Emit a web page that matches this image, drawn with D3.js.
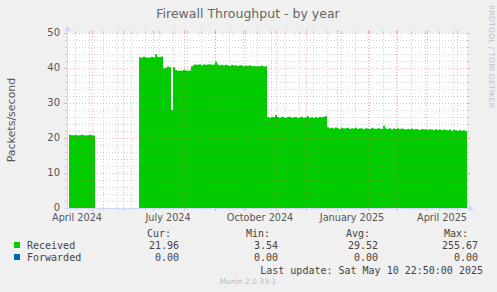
<!DOCTYPE html>
<html>
<head>
<meta charset="utf-8">
<script src="https://cdn.jsdelivr.net/npm/d3@7"></script>
<style>
  body { margin: 0; background: #f0f0f0; }
  svg { display: block; }
  text { font-family: "DejaVu Sans", sans-serif; fill: #555; }
  .mono { font-family: "DejaVu Sans Mono", monospace; font-size: 10px; fill: #444; }
</style>
</head>
<body>
<svg id="graph" width="497" height="292"></svg>
<script>
// one value every 2 days, first value on 2024-04-08
var firstDay = "2024-04-08"
var stepDays = 2
var received = [
  20.9, 20.8, 20.8, 20.9, 20.7, 20.8, 20.9, 20.8, 20.7, 20.8, 20.9, 20.8, 20.7,
  null, null, null, null, null, null, null, null, null, null, null,
  null, null, null, null, null, null, null, null, null, null, null,
  43.1, 43.0, 43.2, 43.1, 42.9, 43.0, 43.2, 43.0, 43.9, 43.2, 43.1, 43.3,
  39.9, 40.1, 40.4, 40.2, 28.0,
  40.2, 39.4, 39.2, 39.3, 39.2, 39.4, 39.3, 39.2, 39.3,
  40.5, 40.9, 41.0, 40.9, 41.1, 40.8, 41.0, 40.9, 41.0, 41.1, 40.9, 41.0, 41.8,
  41.0, 40.8, 40.9, 40.7, 40.9, 40.8, 40.6, 40.9, 40.7, 40.8, 40.6, 40.8, 40.7,
  40.5, 40.7, 40.6, 40.8, 40.5, 40.6, 40.4, 40.6, 40.5, 40.7, 40.4, 40.5,
  26.0, 25.8, 26.1, 25.9, 26.6, 26.0, 25.8, 26.1, 25.9, 25.7,
  26.0, 26.1, 25.8, 25.9, 26.0, 25.7, 25.9, 26.1, 25.8, 25.9,
  26.2, 25.8, 25.9, 25.7, 26.0, 25.8, 26.1, 25.9, 26.0, 26.3,
  23.1, 22.8, 22.9, 22.7, 23.0, 22.8, 22.6, 22.9, 22.7, 22.8,
  22.9, 22.6, 22.8, 22.7, 22.9, 22.6, 22.8, 22.7, 22.5, 22.8,
  22.7, 22.6, 22.9, 22.7, 22.6, 22.8, 22.7, 22.6, 23.5, 22.7,
  22.6, 22.8, 22.5, 22.7, 22.6, 22.8, 22.5, 22.7, 22.6, 22.4,
  22.6, 22.5, 22.7, 22.4, 22.6, 22.5, 22.3, 22.6, 22.4, 22.5,
  22.3, 22.5, 22.4, 22.2, 22.5, 22.3, 22.4, 22.2, 22.4, 22.3,
  22.2, 22.4, 22.1, 22.3, 22.2, 22.0, 22.3, 22.1, 22.2, 22.0
]

var yTicks = [0, 10, 20, 30, 40, 50]
var seriesNames = ["Received", "Forwarded"]
var seriesColors = ["#00cc00", "#0066b3"]
var curVals = ["21.96", "0.00"]
var minVals = ["3.54", "0.00"]
var avgVals = ["29.52", "0.00"]
var maxVals = ["255.67", "0.00"]
var lastUpdate = "Last update: Sat May 10 22:50:00 2025"

var endTime = new Date(Date.UTC(2025, 4, 10, 22, 50))
var startTime = d3.utcDay.offset(endTime, -400)

var plot = { left: 67, right: 467, top: 33, bottom: 208 }

var svg = d3.select("#graph")

svg.append("text")
    .attr("x", 248).attr("y", 18)
    .attr("text-anchor", "middle")
    .attr("font-size", 12.5)
    .style("fill", "#666")
    .text("Firewall Throughput - by year")

svg.append("text")
    .attr("transform", "translate(489,5) rotate(90)")
    .attr("font-size", 7.5)
    .attr("textLength", 103)
    .style("fill", "#c0c0c0")
    .text("RRDTOOL / TOBI OETIKER")

svg.append("text")
    .attr("transform", "translate(15,120) rotate(-90)")
    .attr("text-anchor", "middle")
    .attr("font-size", 11)
    .text("Packets/second")

var xScale = d3.scaleTime().domain([startTime, endTime]).range([plot.left, plot.right])
var yScale = d3.scaleLinear().domain([0, 50]).range([plot.bottom, plot.top])

svg.append("rect")
    .attr("x", plot.left).attr("y", plot.top)
    .attr("width", plot.right - plot.left).attr("height", plot.bottom - plot.top)
    .attr("fill", "#fff")

// stepped area, each value holds for stepDays
var t0 = new Date(firstDay + "T00:00:00Z")
var pts = []
received.forEach((v, i) => {
    var a = d3.utcDay.offset(t0, i * stepDays)
    var b = d3.utcDay.offset(t0, (i + 1) * stepDays)
    if (b > endTime) b = endTime
    pts.push({ t: a, v: v }, { t: b, v: v })
    if (v == null || received[i + 1] == null) pts.push({ t: b, v: null })
})

var area = d3.area()
    .defined(d => d.v != null)
    .x(d => xScale(d.t))
    .y0(yScale(0))
    .y1(d => yScale(d.v))

svg.append("path")
    .datum(pts)
    .attr("d", area)
    .attr("fill", seriesColors[0])

// grid, drawn over the data like rrdtool does
var grid = svg.append("g").attr("shape-rendering", "crispEdges")
var minorColor = "rgba(120,120,120,0.32)"
var majorColor = "rgba(235,70,70,0.38)"

var anchor = Date.UTC(2024, 8, 1)
var minorDays = d3.utcDay.range(startTime, endTime)
    .filter(d => Math.round((d - anchor) / 864e5) % 14 == 0)
var majorDays = d3.utcMonth.range(startTime, endTime)

function vline(d, color, tick) {
    var x = Math.round(xScale(d)) + 0.5
    grid.append("line")
        .attr("x1", x).attr("x2", x).attr("y1", plot.top).attr("y2", plot.bottom)
        .attr("stroke", color).attr("stroke-dasharray", "1,2")
    grid.append("line")
        .attr("x1", x).attr("x2", x).attr("y1", plot.top - tick).attr("y2", plot.top)
        .attr("stroke", color)
    grid.append("line")
        .attr("x1", x).attr("x2", x).attr("y1", plot.bottom).attr("y2", plot.bottom + tick)
        .attr("stroke", color)
}
minorDays.forEach(d => vline(d, minorColor, 2))
majorDays.forEach(d => vline(d, majorColor, 3))

d3.range(0, 51, 2).forEach(v => {
    var major = v % 10 == 0
    var c = major ? majorColor : minorColor
    var y = Math.round(yScale(v)) + 0.5
    if (v > 0) {
        grid.append("line")
            .attr("x1", plot.left).attr("x2", plot.right).attr("y1", y).attr("y2", y)
            .attr("stroke", c).attr("stroke-dasharray", "1,2")
    }
    grid.append("line")
        .attr("x1", plot.left - (major ? 3 : 2)).attr("x2", plot.left).attr("y1", y).attr("y2", y)
        .attr("stroke", c)
    grid.append("line")
        .attr("x1", plot.right).attr("x2", plot.right + (major ? 3 : 2)).attr("y1", y).attr("y2", y)
        .attr("stroke", c)
})

// axes
var axisColor = "#cfd6f8"
svg.append("line")
    .attr("x1", plot.left - 3).attr("x2", plot.right + 2)
    .attr("y1", plot.bottom + 0.5).attr("y2", plot.bottom + 0.5)
    .attr("stroke", axisColor)
svg.append("line")
    .attr("x1", plot.left + 0.5).attr("x2", plot.left + 0.5)
    .attr("y1", plot.bottom + 3).attr("y2", plot.top - 2)
    .attr("stroke", axisColor)
svg.append("path")
    .attr("d", `M${plot.right + 2},${plot.bottom - 2.5}L${plot.right + 7},${plot.bottom + 0.5}L${plot.right + 2},${plot.bottom + 3.5}Z`)
    .attr("fill", axisColor)
svg.append("path")
    .attr("d", `M${plot.left - 2.5},${plot.top - 2}L${plot.left + 0.5},${plot.top - 7}L${plot.left + 3.5},${plot.top - 2}Z`)
    .attr("fill", axisColor)

svg.selectAll(".ylab")
    .data(yTicks)
    .enter().append("text")
    .attr("class", "ylab")
    .attr("x", 60)
    .attr("y", d => yScale(d) + 3)
    .attr("text-anchor", "end")
    .attr("font-size", 10)
    .text(d => d)

var labelMonths = d3.utcMonth.every(3).range(d3.utcMonth.offset(startTime, -1), endTime)
    .map(d => d3.utcDay.offset(d, 15))
    .filter(d => d > startTime && d < endTime)
svg.selectAll(".xlab")
    .data(labelMonths)
    .enter().append("text")
    .attr("class", "xlab")
    .attr("x", d => xScale(d))
    .attr("y", 220.5)
    .attr("text-anchor", "middle")
    .attr("font-size", 9.7)
    .text(d => d3.utcFormat("%B %Y")(d))

// legend
var heads = ["Cur:", "Min:", "Avg:", "Max:"]
var headX = [171, 270, 370, 468]
var valX = [179, 278, 378, 478]
var cols = [curVals, minVals, avgVals, maxVals]

heads.forEach((h, i) => {
    svg.append("text").attr("class", "mono")
        .attr("x", headX[i]).attr("y", 236.5)
        .attr("text-anchor", "end").text(h)
})

seriesNames.forEach((name, r) => {
    var y = 249 + r * 12
    svg.append("rect")
        .attr("x", 14).attr("y", y - 7).attr("width", 6).attr("height", 6)
        .attr("fill", seriesColors[r])
    svg.append("text").attr("class", "mono")
        .attr("x", 27).attr("y", y).text(name)
    cols.forEach((c, i) => {
        svg.append("text").attr("class", "mono")
            .attr("x", valX[i]).attr("y", y)
            .attr("text-anchor", "end").text(c[r])
    })
})

svg.append("text").attr("class", "mono")
    .attr("x", 483).attr("y", 273.5)
    .attr("text-anchor", "end").text(lastUpdate)

svg.append("text")
    .attr("x", 248).attr("y", 284)
    .attr("text-anchor", "middle")
    .attr("font-size", 7.5)
    .style("fill", "#bbb")
    .text("Munin 2.0.33-1")
</script>
</body>
</html>
